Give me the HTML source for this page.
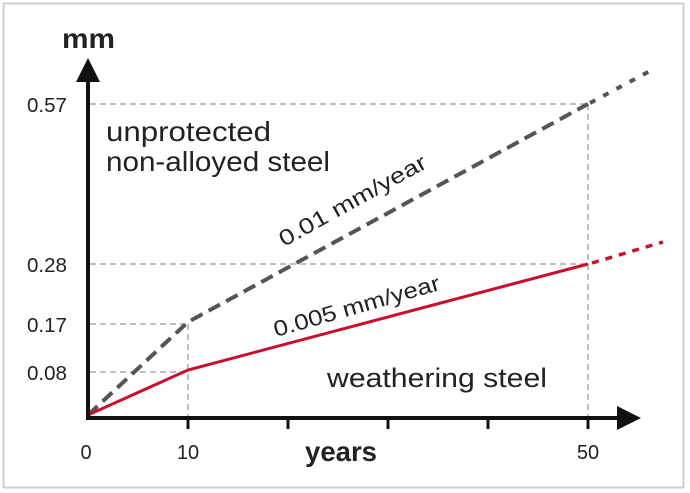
<!DOCTYPE html>
<html><head><style>
html,body{margin:0;padding:0;background:#fff;}
svg{display:block;}
text{font-family:"Liberation Sans",sans-serif;fill:#222;}
</style></head><body>
<svg width="690" height="493" viewBox="0 0 690 493">
<rect x="3.5" y="3.5" width="680" height="484" fill="#fff" stroke="#cfcfcf" stroke-width="2"/>
<g stroke="#aaa" stroke-width="1.5" stroke-dasharray="6,4" fill="none">
<line x1="90" y1="104" x2="588" y2="104"/>
<line x1="90" y1="264" x2="588" y2="264"/>
<line x1="90" y1="324" x2="188" y2="324"/>
<line x1="90" y1="372" x2="188" y2="372"/>
<line x1="188" y1="324" x2="188" y2="418"/>
<line x1="588" y1="104" x2="588" y2="418"/>
</g>
<polyline points="88,415 188,322 588,104" fill="none" stroke="#555" stroke-width="4" stroke-dasharray="13,7"/>
<line x1="590" y1="103" x2="650" y2="71" stroke="#555" stroke-width="4" stroke-dasharray="6,9"/>
<polyline points="88,415 188,370 588,264" fill="none" stroke="#c8102e" stroke-width="3"/>
<line x1="592" y1="263" x2="663" y2="242" stroke="#c8102e" stroke-width="3.5" stroke-dasharray="7,7"/>
<line x1="88" y1="420" x2="88" y2="78" stroke="#111" stroke-width="4"/>
<polygon points="76,82 100,82 88,58" fill="#111"/>
<line x1="86" y1="418" x2="620" y2="418" stroke="#111" stroke-width="4"/>
<polygon points="617,406 617,430 641,418" fill="#111"/>
<g stroke="#111" stroke-width="3">
<line x1="188" y1="418" x2="188" y2="429"/>
<line x1="288" y1="418" x2="288" y2="429"/>
<line x1="388" y1="418" x2="388" y2="429"/>
<line x1="488" y1="418" x2="488" y2="429"/>
<line x1="588" y1="418" x2="588" y2="429"/>
</g>
<text x="62" y="48" font-size="28" font-weight="bold" textLength="53" lengthAdjust="spacingAndGlyphs">mm</text>
<g font-size="20">
<text x="27" y="112" textLength="40" lengthAdjust="spacingAndGlyphs">0.57</text>
<text x="27" y="272" textLength="40" lengthAdjust="spacingAndGlyphs">0.28</text>
<text x="27" y="332" textLength="40" lengthAdjust="spacingAndGlyphs">0.17</text>
<text x="27" y="380" textLength="40" lengthAdjust="spacingAndGlyphs">0.08</text>
</g>
<g font-size="20" text-anchor="middle">
<text x="86" y="459">0</text>
<text x="188" y="459">10</text>
<text x="588" y="459">50</text>
</g>
<text x="305" y="461" font-size="28" font-weight="bold" textLength="72" lengthAdjust="spacingAndGlyphs">years</text>
<text x="106" y="141" font-size="28" textLength="165" lengthAdjust="spacingAndGlyphs">unprotected</text>
<text x="106" y="171" font-size="28" textLength="224" lengthAdjust="spacingAndGlyphs">non-alloyed steel</text>
<text x="327" y="387" font-size="27" textLength="220" lengthAdjust="spacingAndGlyphs">weathering steel</text>
<text x="0" y="0" font-size="22" textLength="165" lengthAdjust="spacingAndGlyphs" transform="translate(284,247) rotate(-29)">0.01 mm/year</text>
<text x="0" y="0" font-size="22" textLength="172" lengthAdjust="spacingAndGlyphs" transform="translate(276,337) rotate(-16)">0.005 mm/year</text>
</svg>
</body></html>
